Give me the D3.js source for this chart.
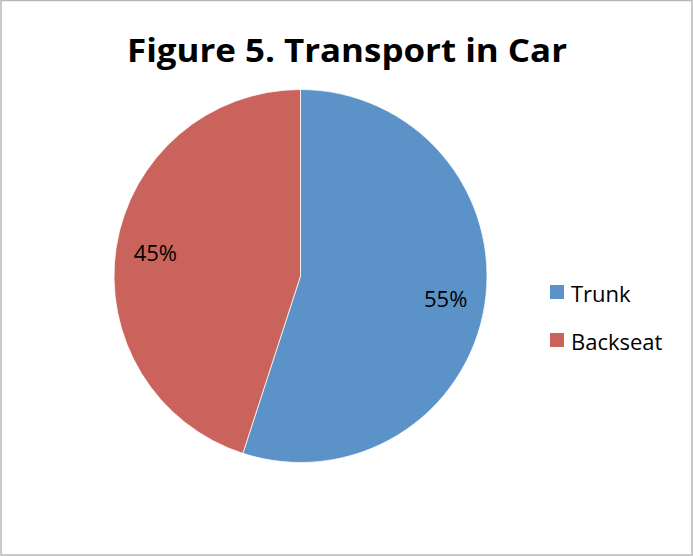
<!DOCTYPE html>
<html>
<head>
<meta charset="utf-8">
<script src="https://cdn.jsdelivr.net/npm/d3@7"></script>
<style>
  html, body { margin: 0; padding: 0; background: #fff; }
  svg { display: block; }
  text { font-family: "Open Sans", "Liberation Sans", Arial, sans-serif; }
</style>
</head>
<body>
<svg id="chart" width="693" height="556"></svg>
<script>
const title = "Figure 5. Transport in Car";
const categories = ["Trunk", "Backseat"];
const values = [55, 45];
const colors = ["#5B93C8", "#C9635C"];

const svg = d3.select("#chart");
const W = 693, H = 556;

svg.append("rect")
  .attr("x", 1).attr("y", 0.5)
  .attr("width", W - 2).attr("height", H - 1.5)
  .attr("fill", "#fff")
  .attr("stroke", "#b8b8b8").attr("stroke-width", 1.5);

svg.append("text")
  .attr("x", 347).attr("y", 62)
  .attr("text-anchor", "middle")
  .attr("font-size", 33).attr("font-weight", "bold")
  .attr("textLength", 440).attr("lengthAdjust", "spacingAndGlyphs")
  .attr("fill", "#000")
  .text(title);

const cx = 300.5, cy = 276, R = 186.5;
const pie = d3.pie().sort(null).value(d => d.v);
const data = categories.map((c, i) => ({ c, v: values[i], color: colors[i] }));
const arcs = pie(data);
const arc = d3.arc().innerRadius(0).outerRadius(R);
const labelArc = d3.arc().innerRadius(147).outerRadius(147);
const total = d3.sum(values);

const g = svg.append("g").attr("transform", `translate(${cx},${cy})`);
g.selectAll("path.slice").data(arcs).join("path")
  .attr("class", "slice")
  .attr("d", arc)
  .attr("fill", d => d.data.color)
  .attr("stroke", "#fff").attr("stroke-width", 0.75);

g.selectAll("text.lbl").data(arcs).join("text")
  .attr("class", "lbl")
  .attr("transform", d => `translate(${labelArc.centroid(d)})`)
  .attr("text-anchor", "middle")
  .attr("dy", "0.36em")
  .attr("font-size", 22)
  .attr("fill", "#000")
  .text(d => Math.round(d.data.v / total * 100) + "%");

const legendY = d3.scalePoint().domain(categories).range([293, 341]);
const leg = svg.append("g");
leg.selectAll("rect").data(data).join("rect")
  .attr("x", 550).attr("y", d => legendY(d.c) - 8)
  .attr("width", 14).attr("height", 14)
  .attr("fill", d => d.color);
leg.selectAll("text").data(data).join("text")
  .attr("x", 571).attr("y", d => legendY(d.c) + 9)
  .attr("font-size", 22)
  .attr("fill", "#000")
  .text(d => d.c);
</script>
</body>
</html>
